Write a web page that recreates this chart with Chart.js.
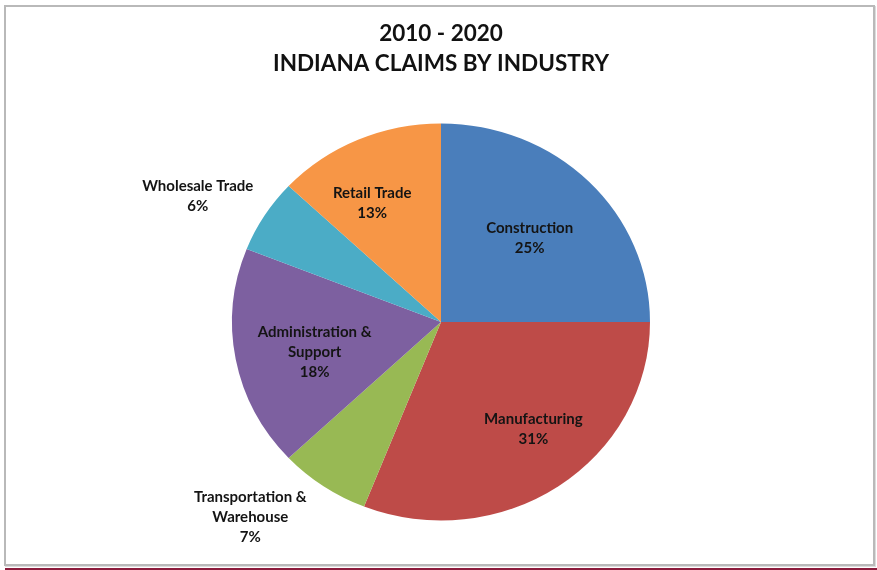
<!DOCTYPE html>
<html>
<head>
<meta charset="utf-8">
<title>Indiana Claims by Industry</title>
<script src="https://cdn.jsdelivr.net/npm/chart.js@4"></script>
<style>
  html, body { margin: 0; padding: 0; background: #fff; }
  #wrap { position: relative; width: 877px; height: 570px; overflow: hidden; }
  #frame {
    position: absolute; left: 4px; top: 5px; width: 867px; height: 557px;
    border: 2px solid #b9b9b9; box-shadow: 1px 1px 0 #dcdcdc;
  }
  #rule { position: absolute; left: 5px; right: 0; top: 568px; height: 2px; background: #8c1c3c; }
  canvas { position: absolute; left: 0; top: 0; }
</style>
</head>
<body>
<div id="wrap">
  <div id="frame"></div>
  <div id="rule"></div>
  <canvas id="pie" width="877" height="570"></canvas>
</div>
<script>
var industries = ['Construction', 'Manufacturing', 'Transportation & Warehouse',
                  'Administration & Support', 'Wholesale Trade', 'Retail Trade'];
var sharePct = [25, 31, 7, 18, 6, 13];
var sliceColors = ['#4a7ebb', '#be4b48', '#98b954', '#7d60a0', '#4bacc6', '#f79646'];

// the pie is drawn slightly squashed vertically
var squash = 0.95;

// where each label sits: fraction of the radius along the slice middle, plus a small shift
var labelRadius = [0.6, 0.65, 1.3, 0.63, 1.35, 0.66];
var labelShift = [[0, 0], [16, 0], [-38, -18], [3, 7], [-5, 18], [-14, 1]];

var squashPie = {
  id: 'squashPie',
  beforeDatasetsDraw: function (chart) {
    var arc = chart.getDatasetMeta(0).data[0];
    var ctx = chart.ctx;
    ctx.save();
    ctx.translate(arc.x, arc.y);
    ctx.scale(1, squash);
    ctx.translate(-arc.x, -arc.y);
  },
  afterDatasetsDraw: function (chart) {
    chart.ctx.restore();
  }
};

var sliceLabels = {
  id: 'sliceLabels',
  afterDatasetsDraw: function (chart) {
    var ctx = chart.ctx;
    var arcs = chart.getDatasetMeta(0).data;
    ctx.save();
    ctx.font = 'bold 15px Lato, "Open Sans", sans-serif';
    ctx.fillStyle = '#141414';
    ctx.textAlign = 'center';
    ctx.textBaseline = 'middle';
    arcs.forEach(function (arc, i) {
      var mid = (arc.startAngle + arc.endAngle) / 2;
      var d = arc.outerRadius * labelRadius[i];
      var x = arc.x + Math.cos(mid) * d + labelShift[i][0];
      var y = arc.y + Math.sin(mid) * d * squash + labelShift[i][1];
      var lines = industries[i].split('& ').map(function (s, k, a) {
        return k < a.length - 1 ? s + '&' : s;
      });
      lines.push(sharePct[i] + '%');
      var top = y - (lines.length - 1) * 10;
      lines.forEach(function (t, k) { ctx.fillText(t, x, top + k * 20); });
    });
    ctx.restore();
  }
};

new Chart(document.getElementById('pie'), {
  type: 'pie',
  data: {
    labels: industries,
    datasets: [{
      data: sharePct,
      backgroundColor: sliceColors,
      borderWidth: 0,
      radius: 209
    }]
  },
  options: {
    responsive: false,
    animation: false,
    layout: { padding: { left: 5, right: 0, top: 0, bottom: 14 } },
    plugins: {
      legend: { display: false },
      tooltip: { enabled: false },
      title: {
        display: true,
        text: ['2010 - 2020', 'INDIANA CLAIMS BY INDUSTRY'],
        color: '#111',
        font: { family: 'Lato, "Open Sans", sans-serif', size: 22.5, weight: 'bold', lineHeight: 1.3 },
        padding: { top: 19.5, bottom: 10 }
      }
    }
  },
  plugins: [squashPie, sliceLabels]
});
</script>
</body>
</html>
